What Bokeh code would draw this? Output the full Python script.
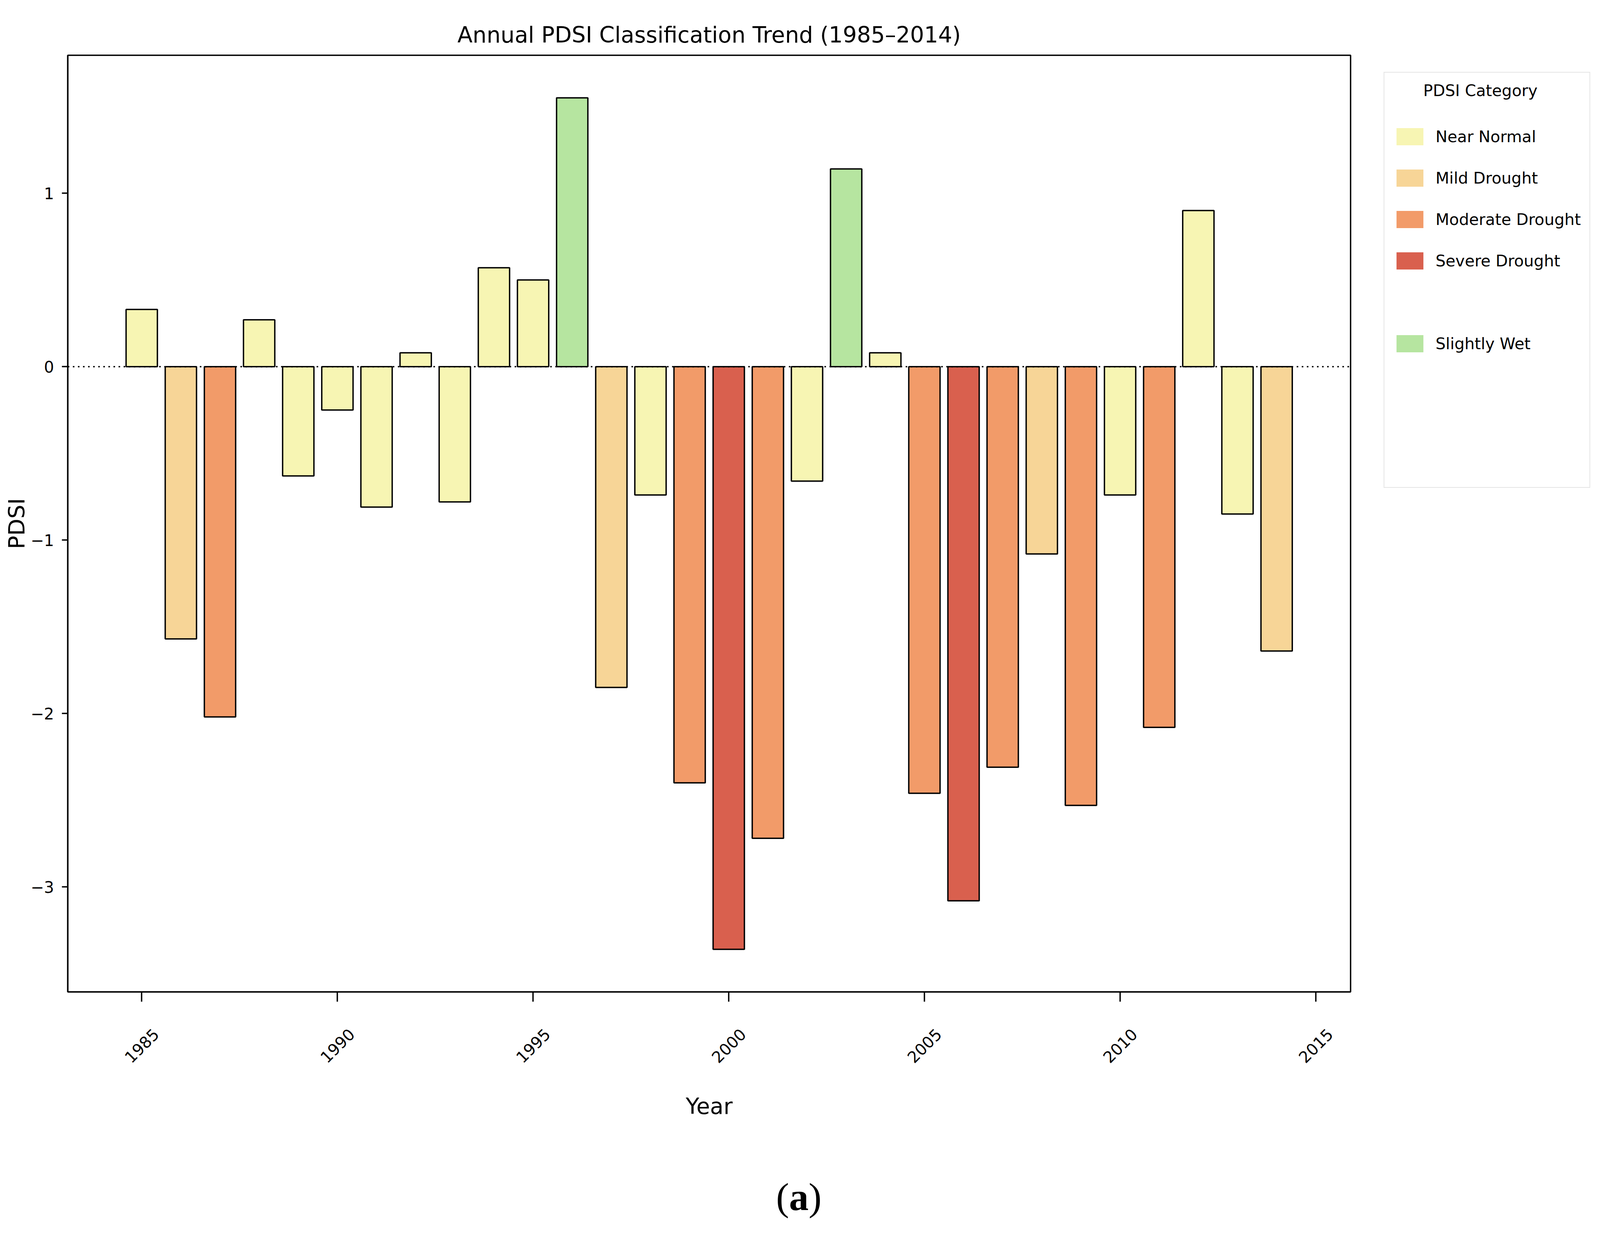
import math
from bokeh.plotting import figure
from bokeh.layouts import column, row
from bokeh.models import (ColumnDataSource, Range1d, FixedTicker, Span, Legend,
                          LegendItem, Div, LinearAxis)
from bokeh.embed import file_html
from bokeh.resources import INLINE

# ---------------- data ----------------
years = list(range(1985, 2015))
pdsi = [0.33, -1.57, -2.02, 0.27, -0.63, -0.25, -0.81, 0.08, -0.78, 0.57,
        0.50, 1.55, -1.85, -0.74, -2.40, -3.36, -2.72, -0.66, 1.14, 0.08,
        -2.46, -3.08, -2.31, -1.08, -2.53, -0.74, -2.08, 0.90, -0.85, -1.64]
categories = ["Near Normal", "Mild Drought", "Moderate Drought", "Near Normal",
              "Near Normal", "Near Normal", "Near Normal", "Near Normal",
              "Near Normal", "Near Normal", "Near Normal", "Slightly Wet",
              "Mild Drought", "Near Normal", "Moderate Drought", "Severe Drought",
              "Moderate Drought", "Near Normal", "Slightly Wet", "Near Normal",
              "Moderate Drought", "Severe Drought", "Moderate Drought", "Mild Drought",
              "Moderate Drought", "Near Normal", "Moderate Drought", "Near Normal",
              "Near Normal", "Mild Drought"]
category_names = ["Near Normal", "Mild Drought", "Moderate Drought", "Severe Drought",
                  "Slightly Wet"]
category_colors = ["#f7f5b3", "#f7d597", "#f29b69", "#d9604e", "#b6e5a0"]
# legend rows ("" = empty row)
legend_rows = ["Near Normal", "Mild Drought", "Moderate Drought", "Severe Drought", "",
               "Slightly Wet", "", "", ""]
legend_title = "PDSI Category"
x_ticks = [1985, 1990, 1995, 2000, 2005, 2010, 2015]
x_tick_labels = ["1985", "1990", "1995", "2000", "2005", "2010", "2015"]
y_ticks = [-3, -2, -1, 0, 1]
y_tick_labels = ["\u22123", "\u22122", "\u22121", "0", "1"]
title_text = "Annual PDSI Classification Trend (1985\u20132014)"
caption_html = "(<b>a</b>)"

color_of = dict(zip(category_names, category_colors))
FONT = "DejaVu Sans"

# horizontal scale from reference pixels to CSS pixels (viewport is 4096 px wide)
S = 4096 / 6942
def fpx(v):
    return f"{v * S:.1f}px"

TOTAL_W = 4096 - 16
frame_left = 306 * S          # page x
frame_right = 5872 * S        # page x
frame_top = 149               # page y
frame_bottom = 2547           # page y
div_top = 3018                # page y
H = div_top - 8
W1 = round(frame_right - 8 + 4)
W2 = TOTAL_W - W1
LW = 3.5

# ---------------- main figure ----------------
x0 = min(years) - 0.4
x1 = max(years) + 0.4
pad = 0.05 * (x1 - x0)
ypad = 0.05 * (max(pdsi) - min(pdsi))
p = figure(width=W1, height=H, output_backend="svg", toolbar_location=None,
           x_range=Range1d(x0 - pad, x1 + pad),
           y_range=Range1d(min(pdsi) - ypad, max(pdsi) + ypad),
           min_border_left=round(frame_left - 8),
           min_border_right=4,
           min_border_top=frame_top - 8,
           min_border_bottom=H - (frame_bottom - 8),
           title=title_text)
p.background_fill_color = "white"
p.border_fill_color = "white"
p.outline_line_color = "black"
p.outline_line_width = LW
p.xgrid.visible = False
p.ygrid.visible = False

p.title.text_font = FONT
p.title.text_font_size = fpx(96)
p.title.text_font_style = "normal"
p.title.text_color = "black"
p.title.align = "center"
p.title.standoff = 39

def style_axis(ax):
    ax.axis_line_color = "black"
    ax.axis_line_width = LW
    ax.major_tick_line_color = "black"
    ax.major_tick_line_width = LW
    ax.major_tick_in = 0
    ax.minor_tick_line_color = None
    ax.major_label_text_font = FONT
    ax.major_label_text_font_size = fpx(69)
    ax.major_label_text_color = "black"
    ax.axis_label_text_font = FONT
    ax.axis_label_text_font_size = fpx(96)
    ax.axis_label_text_font_style = "normal"
    ax.axis_label_text_color = "black"

style_axis(p.xaxis[0])
style_axis(p.yaxis[0])

# x axis: tick marks on the frame edge ...
p.xaxis[0].ticker = FixedTicker(ticks=x_ticks)
p.xaxis[0].major_tick_out = 25
p.xaxis[0].major_label_overrides = {float(t): "" for t in x_ticks}
p.xaxis[0].major_label_text_font_size = "1px"
p.xaxis[0].major_label_standoff = 0

# ... and rotated year labels centred under each tick (matplotlib style)
ppy = (frame_right - frame_left) / ((x1 + pad) - (x0 - pad))
label_w = 4 * 0.636 * 69 * S          # text length of a 4-digit label
shift = (label_w / 2) * math.cos(math.pi / 4) / ppy
label_pos = [t + shift for t in x_ticks]
year_axis = LinearAxis(ticker=FixedTicker(ticks=label_pos),
                       major_label_overrides={float(v): s for v, s in zip(label_pos, x_tick_labels)})
style_axis(year_axis)
year_axis.axis_line_color = None
year_axis.major_tick_line_color = None
year_axis.major_tick_out = 0
year_axis.major_label_orientation = math.pi / 4
year_axis.major_label_standoff = 76
year_axis.axis_label = "Year"
year_axis.axis_label_standoff = 61
p.add_layout(year_axis, "below")

p.yaxis.ticker = FixedTicker(ticks=y_ticks)
p.yaxis.major_tick_out = round(25 * S)
p.yaxis.major_label_overrides = {float(t): s for t, s in zip(y_ticks, y_tick_labels)}
p.yaxis.major_label_standoff = round(34 * S)
p.yaxis.axis_label = "PDSI"
p.yaxis.axis_label_standoff = 0

src = ColumnDataSource(dict(year=years, pdsi=pdsi,
                            color=[color_of[c] for c in categories],
                            category=categories))
p.vbar(x="year", top="pdsi", bottom=0, width=0.8, source=src,
       fill_color="color", line_color="black", line_width=LW)

p.add_layout(Span(location=0, dimension="width", line_color="black",
                  line_width=LW, line_dash="4 9"))

# ---------------- legend panel (separate figure to the right) ----------------
lf = figure(width=W2, height=H, output_backend="svg", toolbar_location=None,
            x_range=Range1d(0, 1), y_range=Range1d(0, 1),
            x_axis_location=None, y_axis_location=None,
            min_border=0, min_border_left=0, min_border_right=0,
            min_border_top=0, min_border_bottom=0)
lf.outline_line_color = None
lf.grid.visible = False
lf.background_fill_color = "white"
lf.border_fill_color = "white"

items = []
for name in legend_rows:
    if name:
        r = lf.vbar(x=[0.5], top=[0.0], bottom=[0.0], width=0.1,
                    fill_color=color_of[name], line_alpha=0)
        items.append(LegendItem(label=name, renderers=[r]))
    else:
        r = lf.vbar(x=[0.5], top=[0.0], bottom=[0.0], width=0.1,
                    fill_alpha=0, line_alpha=0)
        items.append(LegendItem(label=" ", renderers=[r]))

# the legend figure's frame is aligned with the main frame by the row layout
legend_left = round(6017 * S - 8 - W1)
legend_bottom = 1257
legend = Legend(items=items,
                location=(legend_left, frame_bottom - legend_bottom),
                title="\u00a0" * 6 + legend_title,
                title_text_font=FONT, title_text_font_size=fpx(69),
                title_text_font_style="normal", title_text_color="black",
                title_standoff=66,
                label_text_font=FONT, label_text_font_size=fpx(69),
                label_text_color="black", label_height=55,
                label_standoff=23,
                glyph_width=round(146 * S), glyph_height=55,
                spacing=51, padding=22,
                margin=0, border_line_color="#cccccc", border_line_width=2.5,
                background_fill_color="white", background_fill_alpha=1.0)
lf.add_layout(legend)

caption = Div(text=caption_html, width=TOTAL_W, height=130,
              styles={"font-family": "'Liberation Serif', serif",
                      "font-size": "100px", "line-height": "100px",
                      "text-align": "center", "width": f"{TOTAL_W}px",
                      "color": "black"})

layout = column(row(p, lf, spacing=0), caption, spacing=0)
open("out.html", "w").write(file_html(layout, INLINE))
